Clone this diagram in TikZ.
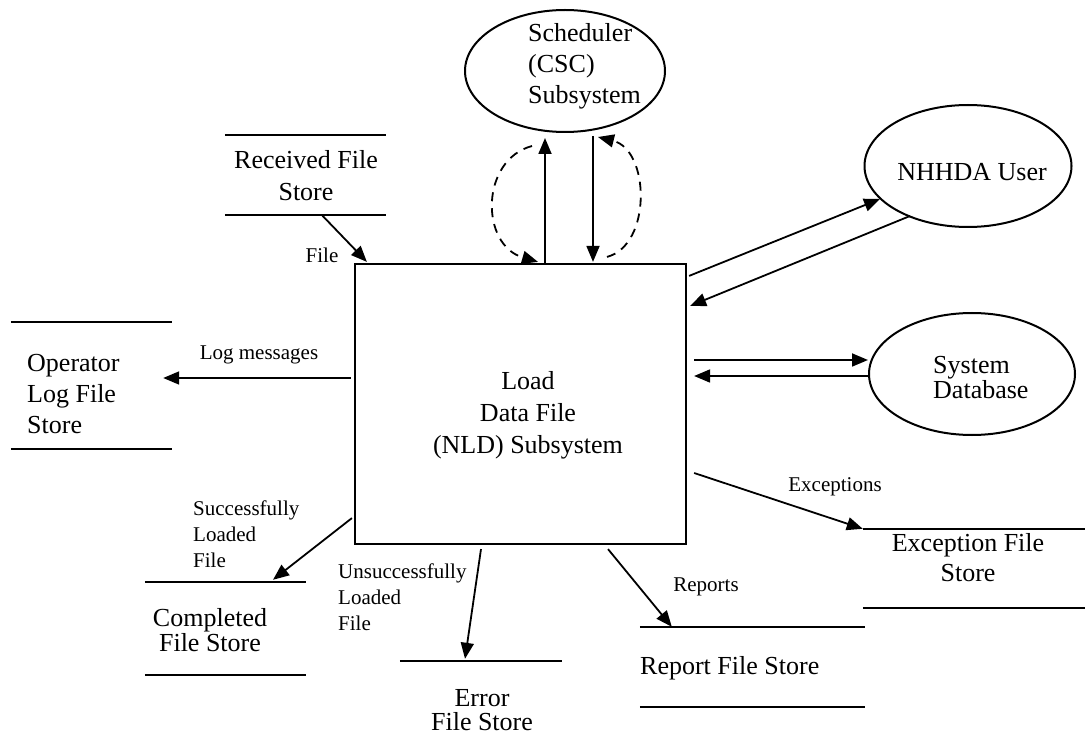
\documentclass[tikz,border=0pt]{standalone}
\usepackage{fontspec}
\setmainfont{Liberation Serif}
\usetikzlibrary{arrows.meta}
\usetikzlibrary{shapes.geometric}
\tikzset{flow/.style = {-{Triangle[length=16pt,width=13pt]}, line width=1.8pt},
         dflow/.style = {flow, dash pattern=on 9pt off 7pt},
         procbox/.style = {draw, line width=2.2pt, inner sep=0pt},
         agent/.style = {draw, ellipse, line width=2pt, inner sep=0pt},
         store/.style = {inner sep=0pt},
         bigtext/.style = {font=\fontsize{26}{32}\selectfont, inner sep=0pt, align=center},
         smalltext/.style = {font=\fontsize{21}{26}\selectfont, inner sep=0pt, align=left}}

\begin{document}
\begin{tikzpicture}[x=1pt, y=-1pt]
    \useasboundingbox (0, 0) rectangle (1085, 751);

    % process and external entities
    \node [procbox, minimum width=331pt, minimum height=280pt] (nld) at (520.5, 404) {};
    \node [agent, minimum width=200pt, minimum height=122pt] (scd) at (565, 71) {};
    \node [agent, minimum width=207pt, minimum height=122pt] (usr) at (968, 166) {};
    \node [agent, minimum width=206pt, minimum height=122pt] (sdb) at (972, 374) {};

    % data stores
    \node [store, minimum width=161pt, minimum height=80pt] (rfs) at (305.5, 175) {};
    \node [store, minimum width=161pt, minimum height=127pt] (ols) at (91.5, 385.5) {};
    \node [store, minimum width=161pt, minimum height=93pt] (cfs) at (225.5, 628.5) {};
    \node [store, minimum width=162pt, minimum height=98pt] (efs) at (481, 710) {};
    \node [store, minimum width=225pt, minimum height=80pt] (rps) at (752.5, 667) {};
    \node [store, minimum width=222pt, minimum height=79pt] (xfs) at (974, 568.5) {};
    \foreach \s in {rfs, ols, cfs, rps, xfs}
      \draw [line width=2.5pt] (\s.north west) -- (\s.north east) (\s.south west) -- (\s.south east);
    \draw [line width=2.5pt] (efs.north west) -- (efs.north east);

    % texts
    \node [bigtext] (nldText) at (528, 415) {Load\\Data File\\(NLD) Subsystem};
    \node [bigtext, align=left, anchor=west, font=\fontsize{26}{31}\selectfont] (scdText) at (528, 66) {Scheduler\\(CSC)\\Subsystem};
    \node [bigtext] (usrText) at (972, 172) {NHHDA User};
    \node [bigtext, align=left, anchor=west, font=\fontsize{26}{25}\selectfont] (sdbText) at (933, 378) {System\\Database};
    \node [bigtext] (rfsText) at (306, 176) {Received File\\Store};
    \node [bigtext, align=left, anchor=west, font=\fontsize{26}{31}\selectfont] (olsText) at (27, 394) {Operator\\Log File\\Store};
    \node [bigtext, font=\fontsize{26}{20}\selectfont] (cfsText) at (210, 630) {Completed\\File Store};
    \node [bigtext, font=\fontsize{26}{24}\selectfont] (efsText) at (482, 710) {Error\\File Store};
    \node [bigtext, anchor=west] (rpsText) at (640, 668) {Report File Store};
    \node [bigtext, font=\fontsize{26}{30}\selectfont] (xfsText) at (968, 558) {Exception File\\Store};

    % flow labels
    \node [smalltext] (fileLabel) at (322, 255) {File};
    \node [smalltext] (logLabel) at (259, 355) {Log messages};
    \node [smalltext, anchor=west] (okLabel) at (193, 534) {Successfully\\Loaded\\File};
    \node [smalltext, anchor=west] (failLabel) at (338, 597) {Unsuccessfully\\Loaded\\File};
    \node [smalltext] (excLabel) at (835, 487) {Exceptions};
    \node [smalltext] (repLabel) at (706, 587) {Reports};

    % flows
    \draw [flow] ([shift={(16.5, 0)}]rfs.south) -- ([shift={(13, -1)}]nld.north west);
    \draw [flow] ([shift={(-3, -26)}]nld.west) -- ([shift={(-9, -7.5)}]ols.east);
    \draw [flow] ([shift={(24.5, 0)}]nld.north) -- ([shift={(-20, 5)}]scd.south);
    \draw [flow] ([shift={(28, 3)}]scd.south) -- ([shift={(72.5, -1)}]nld.north);
    \draw [dflow] ([shift={(-33, 13)}]scd.south) .. controls (480, 160) and (480, 245) .. ([shift={(17.5, -1)}]nld.north);
    \draw [dflow] ([shift={(86.5, -6)}]nld.north) .. controls (652, 245) and (650, 150) .. ([shift={(33, 4)}]scd.south);
    \draw [flow] ([shift={(2, 13)}]nld.north east) -- ([shift={(-88, 33)}]usr.center);
    \draw [flow] ([shift={(-58, 50)}]usr.center) -- ([shift={(3, 43)}]nld.north east);
    \draw [flow] ([shift={(7, -44)}]nld.east) -- ([shift={(0, -14)}]sdb.west);
    \draw [flow] ([shift={(0, 2)}]sdb.west) -- ([shift={(7, -28)}]nld.east);
    \draw [flow] ([shift={(7, 69)}]nld.east) -- (xfs.north west);
    \draw [flow] ([shift={(87.5, 4)}]nld.south) -- ([shift={(32, 0)}]rps.north west);
    \draw [flow] ([shift={(-39.5, 4)}]nld.south) -- ([shift={(-16, -2)}]efs.north);
    \draw [flow] ([shift={(-2, -27)}]nld.south west) -- ([shift={(47.5, -2)}]cfs.north);
\end{tikzpicture}
\end{document}
